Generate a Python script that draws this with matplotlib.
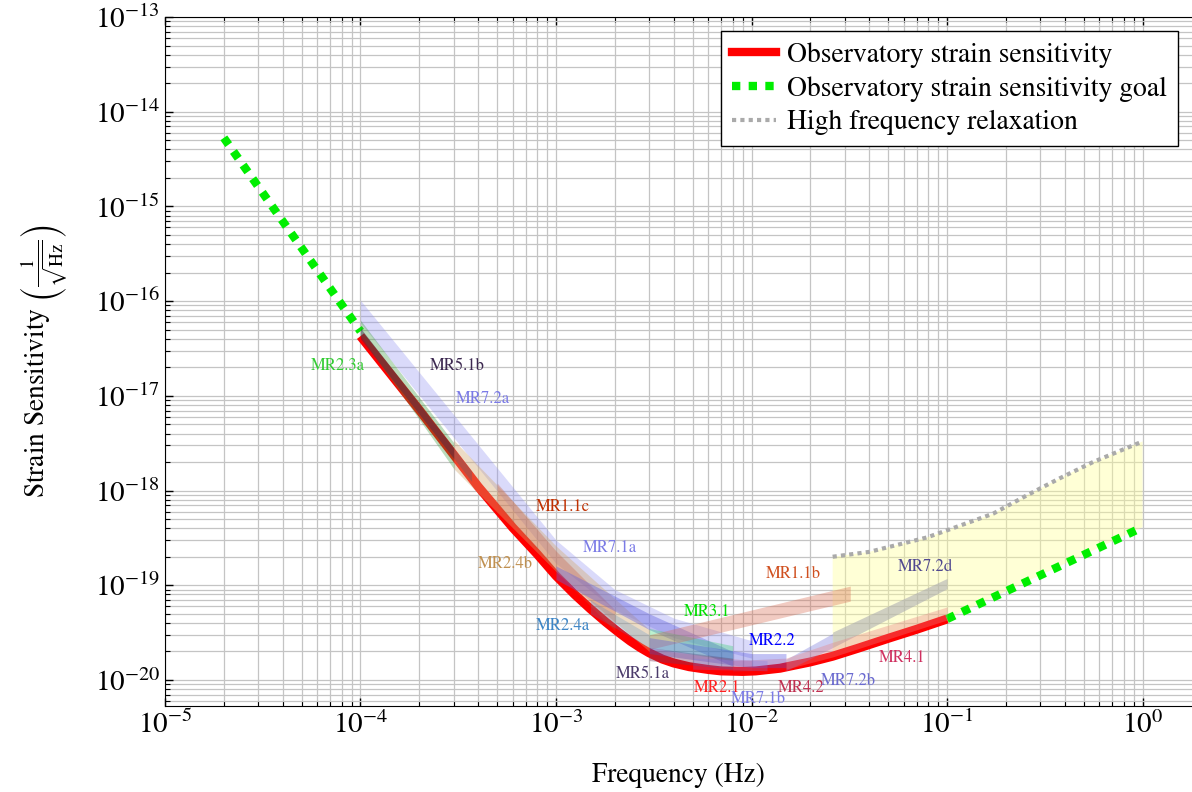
import numpy as np
import matplotlib.pyplot as plt
from matplotlib.lines import Line2D
from matplotlib.ticker import LogLocator, NullFormatter, FixedLocator

plt.rcParams['font.family'] = 'STIXGeneral'
plt.rcParams['mathtext.fontset'] = 'stix'

# observatory sensitivity
red_f = [1e-4, 2e-4, 4e-4, 6e-4, 8e-4, 1e-3, 1.25e-3, 1.5e-3, 1.8e-3, 2.1e-3, 2.4e-3,
         2.7e-3, 3e-3, 3.5e-3, 4e-3, 4.8e-3, 6e-3, 7e-3, 9e-3, 1.05e-2, 1.4e-2, 1.6e-2,
         2e-2, 2.6e-2, 3.5e-2, 5e-2, 7e-2, 1e-1]
red_h = [4.27e-17, 7.08e-18, 1.10e-18, 4.07e-19, 2.14e-19, 1.26e-19, 7.94e-20, 5.62e-20,
         4.07e-20, 3.16e-20, 2.57e-20, 2.19e-20, 1.93e-20, 1.66e-20, 1.51e-20, 1.38e-20,
         1.29e-20, 1.245e-20, 1.23e-20, 1.245e-20, 1.33e-20, 1.41e-20, 1.55e-20, 1.78e-20,
         2.16e-20, 2.75e-20, 3.43e-20, 4.40e-20]

# goal extensions
goal_low_f = [2e-5, 1e-4]
goal_low_h = [5.3e-15, 4.8e-17]
goal_high_f = [0.1, 1.0]
goal_high_h = [4.4e-20, 4.1e-19]

# high frequency relaxation
relax_f = [0.026, 0.04, 0.079, 0.107, 0.172, 0.256, 0.378, 0.558, 1.0]
relax_h = [2.0e-19, 2.25e-19, 3.2e-19, 4.0e-19, 5.7e-19, 8.9e-19, 1.35e-18, 2.0e-18, 3.3e-18]

# requirement bands: frequency, lower and upper edge
mr23a_f, mr23a_lo, mr23a_hi = [1e-4, 3e-4], [4.3e-17, 1.7e-18], [6.3e-17, 3.2e-18]
mr51b_f, mr51b_lo, mr51b_hi = [1e-4, 3.7e-4], [4.0e-17, 1.25e-18], [5.2e-17, 1.6e-18]
mr72a_f = [1e-4, 1e-3, 2e-3, 4e-3, 1e-2]
mr72a_lo = [5.9e-17, 1.7e-19, 5.5e-20, 2.8e-20, 1.7e-20]
mr72a_hi = [1.02e-16, 3.0e-19, 9e-20, 4.5e-20, 2.6e-20]
mr24b_f, mr24b_lo, mr24b_hi = [3e-4, 1e-3, 3e-3], [1.7e-18, 1.4e-19, 2.0e-20], [3.4e-18, 2.6e-19, 3.4e-20]
mr11c_f, mr11c_lo, mr11c_hi = [5e-4, 1e-3, 2e-3], [7e-19, 1.4e-19, 3.3e-20], [1.2e-18, 2.3e-19, 5.5e-20]
mr71a_f, mr71a_lo, mr71a_hi = [1e-3, 3e-3, 8e-3], [1.15e-19, 3.4e-20, 1.4e-20], [1.6e-19, 5e-20, 2.0e-20]
mr24a_f, mr24a_lo, mr24a_hi = [1.5e-3, 3e-3], [5e-20, 2.2e-20], [7e-20, 3.0e-20]
mr31_f, mr31_lo, mr31_hi = [3e-3, 8e-3], [2.2e-20, 1.6e-20], [3.5e-20, 2.3e-20]
mr11b_f, mr11b_lo, mr11b_hi = [3e-3, 3.2e-2], [2.1e-20, 6.8e-20], [3.0e-20, 9.8e-20]
mr22_f, mr22_lo, mr22_hi = [3e-3, 1e-2, 1.5e-2], [1.9e-20, 1.35e-20, 1.35e-20], [2.8e-20, 1.9e-20, 1.9e-20]
mr72b_f, mr72b_lo, mr72b_hi = [1.5e-2, 2.6e-2], [1.25e-20, 2.2e-20], [1.65e-20, 3.1e-20]
mr72d_f, mr72d_lo, mr72d_hi = [2.6e-2, 0.1], [2.2e-20, 9.2e-20], [3.2e-20, 1.18e-19]
mr41_f, mr41_lo, mr41_hi = [1.5e-2, 2.6e-2, 0.1], [1.3e-20, 1.75e-20, 4.3e-20], [1.7e-20, 2.5e-20, 5.9e-20]
mr42_f, mr42_lo, mr42_hi = [8e-3, 1.5e-2], [1.22e-20, 1.3e-20], [1.6e-20, 1.7e-20]
mr21_f, mr21_lo, mr21_hi = [3e-3, 1e-2], [1.6e-20, 1.25e-20], [2.1e-20, 1.6e-20]
mr51a_f, mr51a_lo, mr51a_hi = [3e-3, 8e-3], [1.6e-20, 1.3e-20], [2.2e-20, 1.7e-20]
mr71b_f, mr71b_lo, mr71b_hi = [5e-3, 1.2e-2], [1.3e-20, 1.25e-20], [1.7e-20, 1.6e-20]

bands = [
    (mr72a_f, mr72a_lo, mr72a_hi, '#8c8cf0', 0.32),
    (mr23a_f, mr23a_lo, mr23a_hi, '#3c9a3c', 0.35),
    (mr51b_f, mr51b_lo, mr51b_hi, '#3c2850', 0.45),
    (mr24b_f, mr24b_lo, mr24b_hi, '#d2a870', 0.4),
    (mr11c_f, mr11c_lo, mr11c_hi, '#c85030', 0.3),
    (mr71a_f, mr71a_lo, mr71a_hi, '#6060e0', 0.4),
    (mr24a_f, mr24a_lo, mr24a_hi, '#4a86c8', 0.25),
    (mr31_f, mr31_lo, mr31_hi, '#20d060', 0.3),
    (mr11b_f, mr11b_lo, mr11b_hi, '#d86a50', 0.35),
    (mr22_f, mr22_lo, mr22_hi, '#5050e0', 0.35),
    (mr72b_f, mr72b_lo, mr72b_hi, '#7070d8', 0.35),
    (mr72d_f, mr72d_lo, mr72d_hi, '#a8a8b0', 0.55),
    (mr41_f, mr41_lo, mr41_hi, '#e88080', 0.35),
    (mr42_f, mr42_lo, mr42_hi, '#c03050', 0.2),
    (mr21_f, mr21_lo, mr21_hi, '#ff3030', 0.15),
    (mr51a_f, mr51a_lo, mr51a_hi, '#4a3a70', 0.3),
    (mr71b_f, mr71b_lo, mr71b_hi, '#7b7be6', 0.25),
]

# requirement labels: name, frequency, strain, colour
label_names = ['MR2.3a', 'MR5.1b', 'MR7.2a', 'MR1.1c', 'MR7.1a', 'MR2.4b', 'MR1.1b',
               'MR7.2d', 'MR3.1', 'MR2.4a', 'MR2.2', 'MR4.1', 'MR5.1a', 'MR2.1',
               'MR4.2', 'MR7.2b', 'MR7.1b']
label_f = [7.7e-5, 3.12e-4, 4.24e-4, 1.09e-3, 1.89e-3, 5.5e-4, 1.63e-2,
           7.8e-2, 5.9e-3, 1.09e-3, 1.27e-2, 5.9e-2, 2.79e-3, 6.7e-3,
           1.79e-2, 3.12e-2, 1.09e-2]
label_h = [2.07e-17, 2.07e-17, 9.27e-18, 6.7e-19, 2.48e-19, 1.68e-19, 1.32e-19,
           1.56e-19, 5.2e-20, 3.7e-20, 2.58e-20, 1.7e-20, 1.16e-20, 8.2e-21,
           8.2e-21, 9.8e-21, 6.3e-21]
label_colors = ['#33cc33', '#3c2850', '#7b7be6', '#c03000', '#7b7be6', '#c09050', '#d05020',
                '#504890', '#00e000', '#3d85c6', '#0000ff', '#d03060', '#4b3b6b', '#ff2020',
                '#c03050', '#6b6bd0', '#7b7be6']

x_ticks = [1e-5, 1e-4, 1e-3, 1e-2, 1e-1, 1e0]
y_ticks = [1e-20, 1e-19, 1e-18, 1e-17, 1e-16, 1e-15, 1e-14, 1e-13]

fig = plt.figure(figsize=(11.92, 7.92), dpi=100)
ax = fig.add_axes([0.1384, 0.1086, 0.8616, 0.8699])
ax.set_xscale('log')
ax.set_yscale('log')
ax.set_xlim(1e-5, 1.79)
ax.set_ylim(5.31e-21, 1e-13)

ax.xaxis.set_major_locator(FixedLocator(x_ticks))
ax.yaxis.set_major_locator(FixedLocator(y_ticks))
ax.xaxis.set_minor_locator(LogLocator(base=10, subs=np.arange(2, 10), numticks=200))
ax.yaxis.set_minor_locator(LogLocator(base=10, subs=np.arange(2, 10), numticks=200))
ax.xaxis.set_minor_formatter(NullFormatter())
ax.yaxis.set_minor_formatter(NullFormatter())
ax.grid(True, which='both', color='#c4c4c4', lw=0.9)
ax.set_axisbelow(True)

# relaxation region between the relaxed curve and the sensitivity / goal
red_tail = [(f, h) for f, h in zip(red_f, red_h) if f >= relax_f[0]]
poly_f = relax_f + goal_high_f[::-1] + [p[0] for p in red_tail[::-1]]
poly_h = relax_h + goal_high_h[::-1] + [p[1] for p in red_tail[::-1]]
ax.fill(poly_f, poly_h, color='#ffff99', alpha=0.4, lw=0, zorder=1)

ax.plot(red_f, red_h, color='red', lw=6.5, solid_capstyle='butt', solid_joinstyle='round', zorder=3)
ax.plot(goal_low_f, goal_low_h, color='#00ee00', lw=6, ls=(0, (1, 1)), zorder=3)
ax.plot(goal_high_f, goal_high_h, color='#00ee00', lw=6, ls=(0, (1, 1)), zorder=3)
ax.plot(relax_f, relax_h, color='#aaaaaa', lw=3, ls=(0, (1, 1)), zorder=3)

for f, lo, hi, c, a in bands:
    ax.fill_between(f, lo, hi, color=c, alpha=a, lw=0, zorder=4)

for name, f, h, c in zip(label_names, label_f, label_h, label_colors):
    ax.text(f, h, name, color=c, fontsize=12, ha='center', va='center', zorder=6)

ax.spines['right'].set_visible(False)
ax.tick_params(which='both', direction='in', top=True, right=False, labelsize=21)
ax.tick_params(which='major', length=6, width=1)
ax.tick_params(which='minor', length=3.5, width=0.8)

ax.set_xlabel('Frequency (Hz)', fontsize=19.7, labelpad=17)
ax.set_ylabel(r'Strain Sensitivity $\left(\frac{1}{\sqrt{\mathrm{Hz}}}\right)$', fontsize=19.7, labelpad=18)

handles = [
    Line2D([], [], color='red', lw=6),
    Line2D([], [], color='#00ee00', lw=6, ls=(0, (1, 1))),
    Line2D([], [], color='#aaaaaa', lw=3, ls=(0, (1, 1))),
]
labels = ['Observatory strain sensitivity', 'Observatory strain sensitivity goal',
          'High frequency relaxation']
leg = ax.legend(handles, labels, loc='upper right', fontsize=19.9, fancybox=False,
                framealpha=1, edgecolor='black', borderaxespad=0.5,
                handlelength=1.6, handletextpad=0.4, labelspacing=0.3)
leg.get_frame().set_linewidth(1)

fig.savefig('out.png', dpi=100)
